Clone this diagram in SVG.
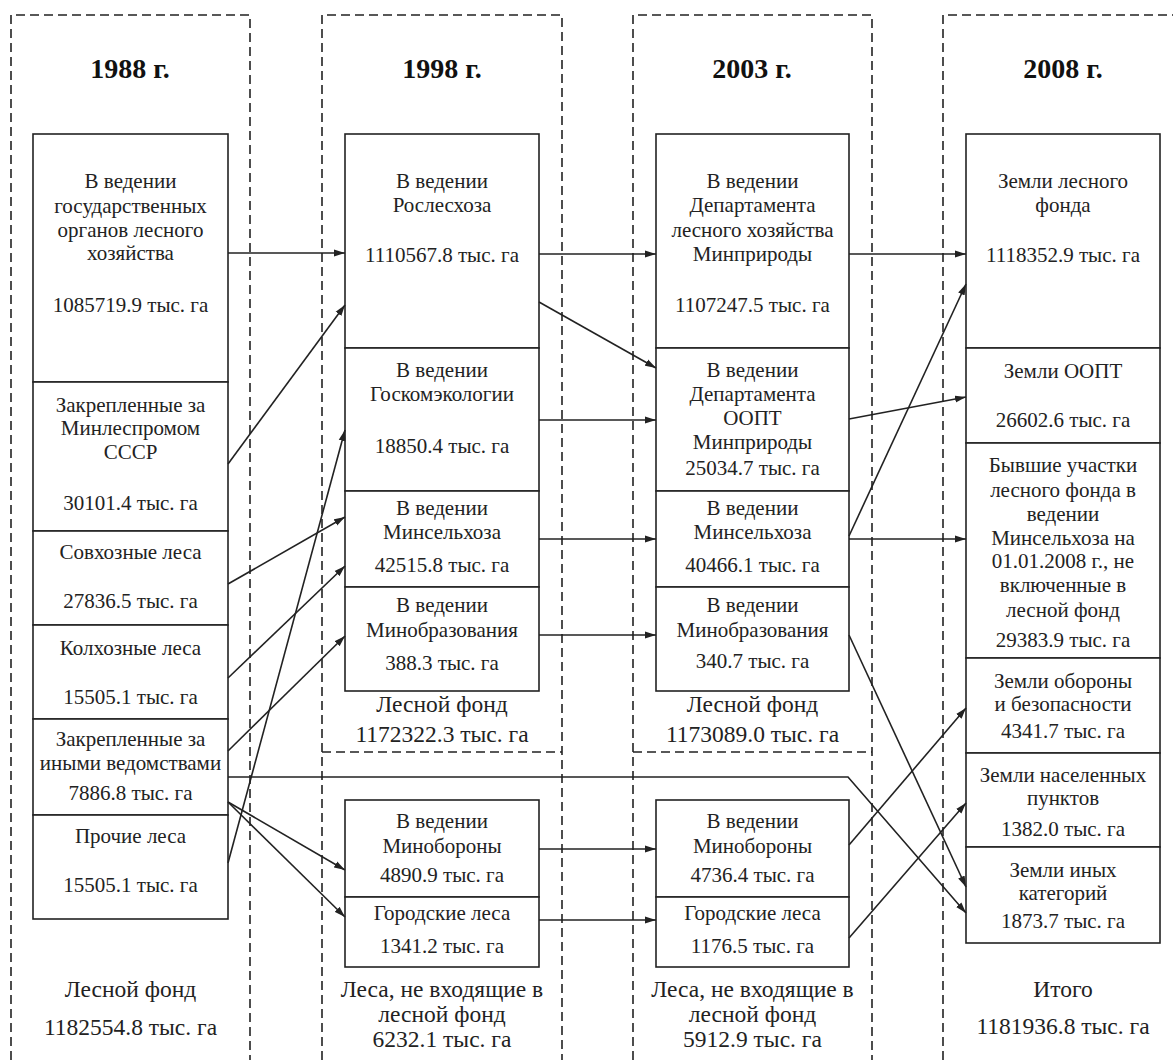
<svg xmlns="http://www.w3.org/2000/svg" width="1173" height="1060" viewBox="0 0 1173 1060">
<style>
.bg{fill:#fff}
.frame{fill:none;stroke:#222;stroke-width:1.6;stroke-dasharray:9 5}
.box{fill:#fff;stroke:#222;stroke-width:1.6}
.t{font-family:"Liberation Serif","Times New Roman",serif;font-size:21px;fill:#222;text-anchor:middle}
.l{font-family:"Liberation Serif","Times New Roman",serif;font-size:23.5px;fill:#222;text-anchor:middle}
.h{font-family:"Liberation Serif","Times New Roman",serif;font-size:28px;font-weight:bold;fill:#111;text-anchor:middle}
.c{fill:none;stroke:#222;stroke-width:1.6}
</style>
<defs>
<marker id="arr" markerUnits="userSpaceOnUse" markerWidth="11" markerHeight="8" refX="11" refY="4" orient="auto">
<path d="M0,0.5 L11,4 L0,7.5 z" fill="#222"/>
</marker>
</defs>
<rect class="bg" x="0" y="0" width="1173" height="1060"/>

<g id="frames">
<path class="frame" d="M11,1060 V15 H250 V1060"/>
<path class="frame" d="M322,1060 V15 H562 V1060"/>
<path class="frame" d="M322,752 H562"/>
<path class="frame" d="M633,1060 V15 H872 V1060"/>
<path class="frame" d="M633,752 H872"/>
<path class="frame" d="M943,1060 V15 H1173"/>
</g>

<g id="titles">
<text class="h" x="130" y="78">1988 г.</text>
<text class="h" x="442" y="78">1998 г.</text>
<text class="h" x="752" y="78">2003 г.</text>
<text class="h" x="1063" y="78">2008 г.</text>
</g>

<g id="c1988">
<g id="n1988-gos"><rect class="box" x="33" y="134" width="195" height="248"/>
<text class="t" x="130.5" y="188">В ведении</text><text class="t" x="130.5" y="213">государственных</text><text class="t" x="130.5" y="237">органов лесного</text><text class="t" x="130.5" y="260">хозяйства</text><text class="t" x="130.5" y="312">1085719.9 тыс. га</text></g>
<g id="n1988-minles"><rect class="box" x="33" y="382" width="195" height="149"/>
<text class="t" x="130.5" y="412">Закрепленные за</text><text class="t" x="130.5" y="435">Минлеспромом</text><text class="t" x="130.5" y="459">СССР</text><text class="t" x="130.5" y="510">30101.4 тыс. га</text></g>
<g id="n1988-sovh"><rect class="box" x="33" y="531" width="195" height="94"/>
<text class="t" x="130.5" y="559">Совхозные леса</text><text class="t" x="130.5" y="608">27836.5 тыс. га</text></g>
<g id="n1988-kolh"><rect class="box" x="33" y="625" width="195" height="94"/>
<text class="t" x="130.5" y="655">Колхозные леса</text><text class="t" x="130.5" y="704">15505.1 тыс. га</text></g>
<g id="n1988-inye"><rect class="box" x="33" y="719" width="195" height="96"/>
<text class="t" x="130.5" y="746">Закрепленные за</text><text class="t" x="130.5" y="770">иными ведомствами</text><text class="t" x="130.5" y="800">7886.8 тыс. га</text></g>
<g id="n1988-proch"><rect class="box" x="33" y="815" width="195" height="104"/>
<text class="t" x="130.5" y="843">Прочие леса</text><text class="t" x="130.5" y="892">15505.1 тыс. га</text></g>
<g id="n1988-total"><text class="l" x="130.5" y="997">Лесной фонд</text><text class="l" x="130.5" y="1035">1182554.8 тыс. га</text></g>
</g>

<g id="c1998">
<g id="n1998-rosles"><rect class="box" x="345" y="134" width="194" height="214"/>
<text class="t" x="442" y="188">В ведении</text><text class="t" x="442" y="212">Рослесхоза</text><text class="t" x="442" y="262">1110567.8 тыс. га</text></g>
<g id="n1998-goskom"><rect class="box" x="345" y="348" width="194" height="143"/>
<text class="t" x="442" y="377">В ведении</text><text class="t" x="442" y="401">Госкомэкологии</text><text class="t" x="442" y="453">18850.4 тыс. га</text></g>
<g id="n1998-minselh"><rect class="box" x="345" y="491" width="194" height="96"/>
<text class="t" x="442" y="515">В ведении</text><text class="t" x="442" y="539">Минсельхоза</text><text class="t" x="442" y="572">42515.8 тыс. га</text></g>
<g id="n1998-minobr"><rect class="box" x="345" y="587" width="194" height="104"/>
<text class="t" x="442" y="612">В ведении</text><text class="t" x="442" y="637">Минобразования</text><text class="t" x="442" y="670">388.3 тыс. га</text></g>
<g id="n1998-lf"><text class="l" x="442" y="712">Лесной фонд</text><text class="l" x="442" y="742">1172322.3 тыс. га</text></g>
<g id="n1998-minob"><rect class="box" x="345" y="800" width="194" height="97"/>
<text class="t" x="442" y="828">В ведении</text><text class="t" x="442" y="853">Минобороны</text><text class="t" x="442" y="882">4890.9 тыс. га</text></g>
<g id="n1998-gor"><rect class="box" x="345" y="897" width="194" height="70"/>
<text class="t" x="442" y="920">Городские леса</text><text class="t" x="442" y="953">1341.2 тыс. га</text></g>
<g id="n1998-nelf"><text class="l" x="442" y="997">Леса, не входящие в</text><text class="l" x="442" y="1022">лесной фонд</text><text class="l" x="442" y="1047">6232.1 тыс. га</text></g>
</g>

<g id="c2003">
<g id="n2003-dlh"><rect class="box" x="656" y="134" width="193" height="214"/>
<text class="t" x="752.5" y="188">В ведении</text><text class="t" x="752.5" y="212">Департамента</text><text class="t" x="752.5" y="237">лесного хозяйства</text><text class="t" x="752.5" y="261">Минприроды</text><text class="t" x="752.5" y="312">1107247.5 тыс. га</text></g>
<g id="n2003-oopt"><rect class="box" x="656" y="348" width="193" height="143"/>
<text class="t" x="752.5" y="377">В ведении</text><text class="t" x="752.5" y="401">Департамента</text><text class="t" x="752.5" y="425">ООПТ</text><text class="t" x="752.5" y="449">Минприроды</text><text class="t" x="752.5" y="475">25034.7 тыс. га</text></g>
<g id="n2003-minselh"><rect class="box" x="656" y="491" width="193" height="96"/>
<text class="t" x="752.5" y="515">В ведении</text><text class="t" x="752.5" y="539">Минсельхоза</text><text class="t" x="752.5" y="572">40466.1 тыс. га</text></g>
<g id="n2003-minobr"><rect class="box" x="656" y="587" width="193" height="104"/>
<text class="t" x="752.5" y="612">В ведении</text><text class="t" x="752.5" y="637">Минобразования</text><text class="t" x="752.5" y="668">340.7 тыс. га</text></g>
<g id="n2003-lf"><text class="l" x="752.5" y="712">Лесной фонд</text><text class="l" x="752.5" y="742">1173089.0 тыс. га</text></g>
<g id="n2003-minob"><rect class="box" x="656" y="800" width="193" height="97"/>
<text class="t" x="752.5" y="828">В ведении</text><text class="t" x="752.5" y="853">Минобороны</text><text class="t" x="752.5" y="882">4736.4 тыс. га</text></g>
<g id="n2003-gor"><rect class="box" x="656" y="897" width="193" height="70"/>
<text class="t" x="752.5" y="920">Городские леса</text><text class="t" x="752.5" y="953">1176.5 тыс. га</text></g>
<g id="n2003-nelf"><text class="l" x="752.5" y="997">Леса, не входящие в</text><text class="l" x="752.5" y="1022">лесной фонд</text><text class="l" x="752.5" y="1047">5912.9 тыс. га</text></g>
</g>

<g id="c2008">
<g id="n2008-zlf"><rect class="box" x="966" y="134" width="194" height="214"/>
<text class="t" x="1063" y="188">Земли лесного</text><text class="t" x="1063" y="212">фонда</text><text class="t" x="1063" y="262">1118352.9 тыс. га</text></g>
<g id="n2008-oopt"><rect class="box" x="966" y="348" width="194" height="95"/>
<text class="t" x="1063" y="378">Земли ООПТ</text><text class="t" x="1063" y="427">26602.6 тыс. га</text></g>
<g id="n2008-byv"><rect class="box" x="966" y="443" width="194" height="215"/>
<text class="t" x="1063" y="472">Бывшие участки</text><text class="t" x="1063" y="497">лесного фонда в</text><text class="t" x="1063" y="521">ведении</text><text class="t" x="1063" y="545">Минсельхоза на</text><text class="t" x="1063" y="568">01.01.2008 г., не</text><text class="t" x="1063" y="592">включенные в</text><text class="t" x="1063" y="617">лесной фонд</text><text class="t" x="1063" y="647">29383.9 тыс. га</text></g>
<g id="n2008-obor"><rect class="box" x="966" y="658" width="194" height="95"/>
<text class="t" x="1063" y="688">Земли обороны</text><text class="t" x="1063" y="711">и безопасности</text><text class="t" x="1063" y="738">4341.7 тыс. га</text></g>
<g id="n2008-nas"><rect class="box" x="966" y="753" width="194" height="94"/>
<text class="t" x="1063" y="782">Земли населенных</text><text class="t" x="1063" y="805">пунктов</text><text class="t" x="1063" y="836">1382.0 тыс. га</text></g>
<g id="n2008-inye"><rect class="box" x="966" y="847" width="194" height="96"/>
<text class="t" x="1063" y="877">Земли иных</text><text class="t" x="1063" y="900">категорий</text><text class="t" x="1063" y="928">1873.7 тыс. га</text></g>
<g id="n2008-total"><text class="l" x="1063" y="997">Итого</text><text class="l" x="1063" y="1034">1181936.8 тыс. га</text></g>
</g>

<g id="connectors">
<path class="c" marker-end="url(#arr)" d="M228,253 H345"/>
<path class="c" marker-end="url(#arr)" d="M228,464 L345,305"/>
<path class="c" marker-end="url(#arr)" d="M228,584 L345,517"/>
<path class="c" marker-end="url(#arr)" d="M228,678 L345,566"/>
<path class="c" marker-end="url(#arr)" d="M228,863 L345,430"/>
<path class="c" marker-end="url(#arr)" d="M228,751 L345,636"/>
<path class="c" marker-end="url(#arr)" d="M228,802 L345,870"/>
<path class="c" marker-end="url(#arr)" d="M228,802 L345,917"/>
<path class="c" marker-end="url(#arr)" d="M228,777 H848 L966,913"/>
<path class="c" marker-end="url(#arr)" d="M539,254 H656"/>
<path class="c" marker-end="url(#arr)" d="M539,302 L656,368"/>
<path class="c" marker-end="url(#arr)" d="M539,420 H656"/>
<path class="c" marker-end="url(#arr)" d="M539,539 H656"/>
<path class="c" marker-end="url(#arr)" d="M539,635 H656"/>
<path class="c" marker-end="url(#arr)" d="M539,849 H656"/>
<path class="c" marker-end="url(#arr)" d="M539,920 H656"/>
<path class="c" marker-end="url(#arr)" d="M849,254 H966"/>
<path class="c" marker-end="url(#arr)" d="M849,419 L966,397"/>
<path class="c" marker-end="url(#arr)" d="M849,539 H966"/>
<path class="c" marker-end="url(#arr)" d="M849,536 L966,284"/>
<path class="c" marker-end="url(#arr)" d="M849,635 L966,887"/>
<path class="c" marker-end="url(#arr)" d="M849,845 L966,708"/>
<path class="c" marker-end="url(#arr)" d="M849,938 L966,803"/>
</g>
</svg>
